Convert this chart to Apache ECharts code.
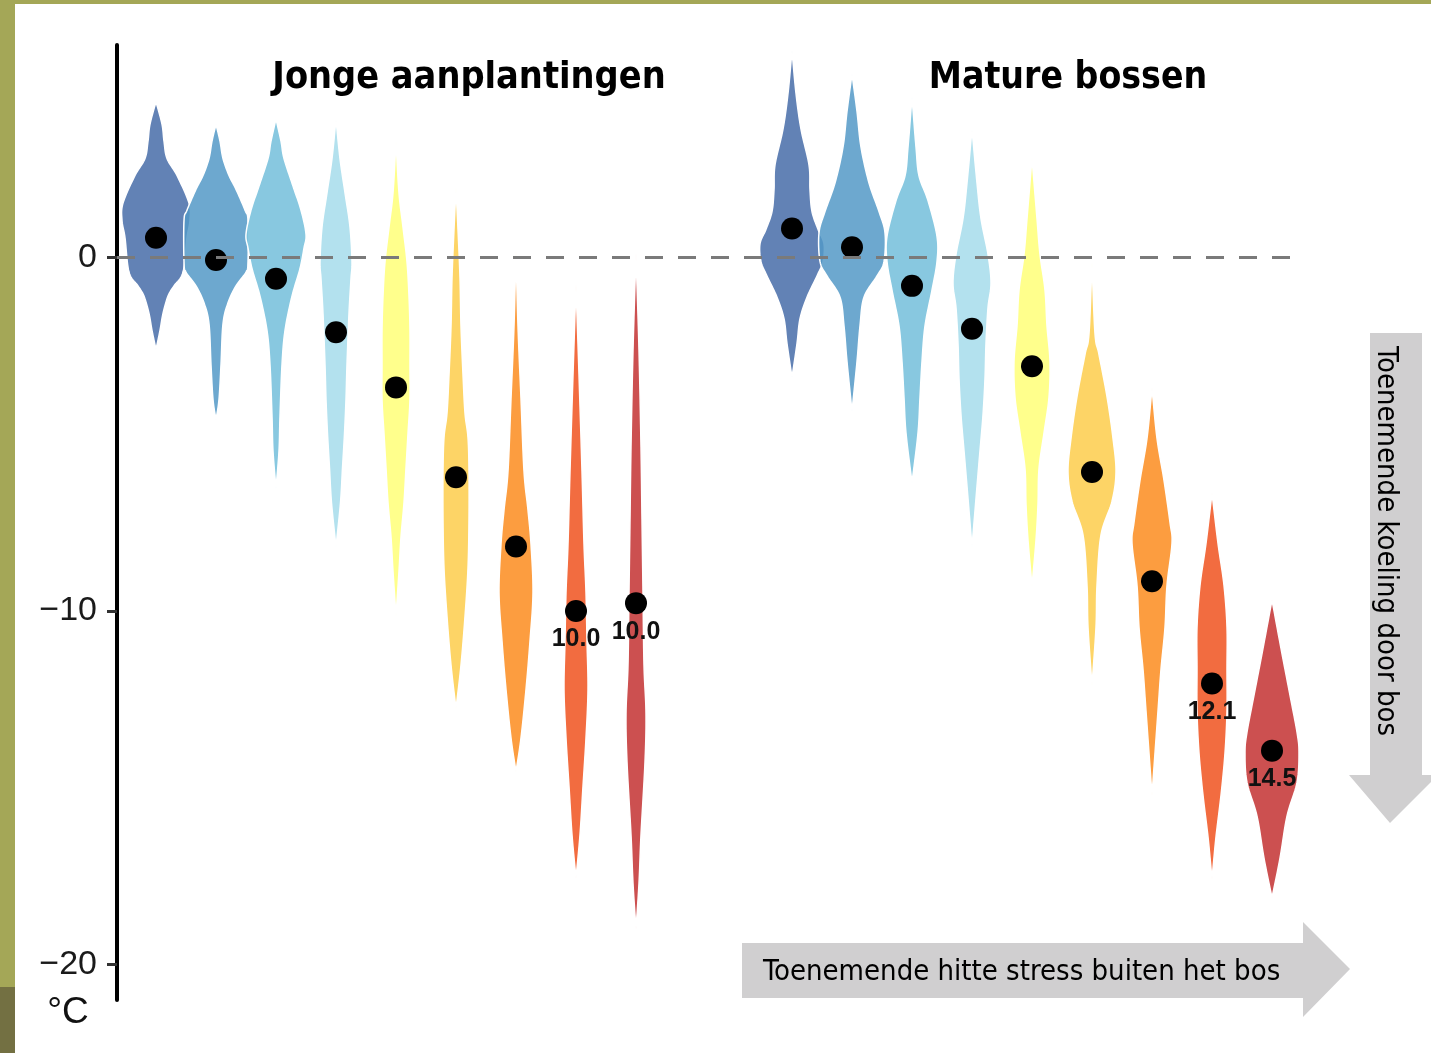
<!DOCTYPE html>
<html><head><meta charset="utf-8">
<script src="https://cdn.jsdelivr.net/npm/echarts@6/dist/echarts.min.js"></script>
<style>html,body{margin:0;padding:0;background:#fff;} #c{width:1431px;height:1053px;}</style>
</head><body><div id="c"></div>
<script>
// ---------------- data ----------------
const groupTitles = ['Jonge aanplantingen', 'Mature bossen'];
const yTicks = [0, -10, -20];
const yUnit = '°C';
const xArrowText = 'Toenemende hitte stress buiten het bos';
const yArrowText = 'Toenemende koeling door bos';

// mean cooling per heat-stress class (9 classes per group)
const youngMeans  = [0.55, -0.08, -0.61, -2.12, -3.68, -6.22, -8.18, -10.0, -9.78];
const matureMeans = [0.81, 0.28, -0.81, -2.02, -3.08, -6.07, -9.16, -12.05, -13.95];
const youngLabels  = ['', '', '', '', '', '', '', '10.0', '10.0'];
const matureLabels = ['', '', '', '', '', '', '', '12.1', '14.5'];

// violin density profiles: [value, relative density]
const youngDensity = [
  [[4.40,0],[3.76,6],[3.28,8],[2.79,11],[2.31,21],[1.53,33],[1.04,34],[0.55,31],[-0.42,27],[-0.81,18],[-1.10,12],[-1.59,7],[-2.07,4],[-2.61,0]],
  [[3.76,0],[3.28,4],[2.79,7],[2.31,13],[1.92,20],[1.33,29],[1.04,32],[-0.13,32],[-0.42,30],[-0.81,20],[-1.29,12],[-1.88,7],[-3.04,5],[-4.02,3],[-4.60,0]],
  [[3.91,0],[3.28,5],[2.79,8],[2.01,17],[1.33,25],[0.65,30],[0.26,28],[-0.32,24],[-1.10,16],[-2.07,9],[-3.04,6],[-4.50,4],[-5.48,3],[-6.55,0]],
  [[3.91,0],[2.79,4],[1.82,9],[0.85,14],[-0.13,16],[-0.61,15],[-1.59,13],[-3.04,11],[-4.02,10],[-4.99,8.5],[-5.96,6.5],[-6.94,4.5],[-8.20,0]],
  [[3.28,0],[1.82,3],[0.85,7],[-0.13,11],[-1.10,13],[-2.07,14],[-3.04,14],[-4.02,14],[-4.99,12],[-5.96,10],[-6.94,8],[-7.91,5],[-8.88,3],[-10.15,0]],
  [[1.96,0],[0.79,2],[-0.58,4],[-1.95,5],[-3.32,7],[-4.41,9],[-5.10,12],[-6.05,13],[-7.42,13],[-8.79,12],[-10.16,9],[-11.53,5],[-12.77,0]],
  [[0.18,0],[-1.95,2],[-4.00,5],[-6.05,8],[-7.15,12],[-8.11,15],[-9.48,17],[-10.85,14],[-12.22,10],[-13.59,5],[-14.55,0]],
  [[-0.78,0],[-3.32,3],[-6.05,6],[-8.11,8],[-9.48,10],[-10.85,11],[-12.22,12],[-13.59,10],[-14.96,7],[-16.33,4],[-17.56,0]],
  [[0.11,0],[-2.63,3],[-5.37,5],[-7.42,6],[-9.48,7],[-11.53,8],[-12.90,10],[-14.27,9],[-16.33,5],[-17.70,3],[-19.0,0]]
];
const matureDensity = [
  [[5.84,0],[4.63,4],[3.62,9],[2.61,17],[1.90,18],[1.29,20],[0.79,26],[0.38,32],[-0.12,31],[-0.53,25],[-1.13,15],[-1.74,8],[-2.44,5],[-3.40,0]],
  [[5.18,0],[4.12,5],[3.11,9],[2.10,17],[1.29,27],[0.69,33],[-0.12,32],[-0.53,25],[-1.13,12],[-1.94,8],[-2.95,5],[-4.36,0]],
  [[4.53,0],[3.11,4],[2.30,7],[1.60,16],[0.59,25],[-0.12,25],[-0.93,20],[-1.94,13],[-2.95,10],[-3.96,8],[-4.97,6],[-6.38,0]],
  [[3.62,0],[2.10,5],[1.09,9],[0.08,16],[-0.73,19],[-1.43,16],[-2.44,14],[-3.43,13],[-4.46,11],[-5.47,8],[-6.48,5],[-8.20,0]],
  [[2.81,0],[1.09,5],[0.08,8],[-0.93,13],[-1.94,15],[-2.95,18],[-3.96,17],[-4.97,12],[-5.98,7],[-6.99,6],[-8.0,4],[-9.31,0]],
  [[-0.14,0],[-2.16,3],[-2.75,7],[-3.94,15],[-5.12,21],[-6.07,24],[-6.90,20],[-7.85,9],[-9.28,5],[-10.46,4],[-12.12,0]],
  [[-3.70,0],[-5.12,5],[-6.31,12],[-7.50,18],[-8.09,20],[-9.28,15],[-10.46,13],[-11.65,9],[-12.83,6],[-15.21,0]],
  [[-6.67,0],[-8.09,6],[-9.28,12],[-10.46,15],[-11.65,15],[-12.83,15],[-14.02,13],[-15.21,9],[-16.39,4],[-17.58,0]],
  [[-9.69,0],[-11.06,9],[-12.24,17],[-13.43,25],[-14.02,27],[-14.85,25],[-15.80,15],[-16.99,8],[-18.11,0]]
];

// colours per heat-stress class (semi-transparent, like the original)
const palette = ['rgba(71,108,168,0.85)','rgba(84,153,199,0.85)','rgba(115,190,219,0.85)','rgba(166,220,235,0.85)',
  'rgba(255,255,120,0.85)','rgba(253,204,75,0.85)','rgba(252,140,30,0.85)','rgba(240,82,30,0.85)','rgba(195,49,49,0.85)'];

// ---------------- build ----------------
const groupGap = 10.6;             // slot offset of the second panel
const densityScale = 1 / 60;       // density -> x-axis units
const means = [youngMeans, matureMeans];
const labels = [youngLabels, matureLabels];
const profiles = [youngDensity, matureDensity];

const violinData = [], dotData = [];
for (let g = 0; g < 2; g++) {
  for (let k = 0; k < means[g].length; k++) {
    const x = 1 + k + g * groupGap;
    violinData.push([x, means[g][k], g, k]);
    dotData.push([x, means[g][k], labels[g][k]]);
  }
}

// smooth outline through the profile points (drawing only)
function smoothOutline(prof) {
  const out = [];
  const n = prof.length;
  const refl = (a, b) => [2 * a[0] - b[0], 2 * a[1] - b[1]];
  for (let i = 0; i < n - 1; i++) {
    const p1 = prof[i], p2 = prof[i + 1];
    const p0 = i > 0 ? prof[i - 1] : refl(p1, p2);
    const p3 = i + 2 < n ? prof[i + 2] : refl(p2, p1);
    for (let s = 0; s < 12; s++) {
      const t = s / 12, t2 = t * t, t3 = t2 * t;
      const f = (a, b, c, d) => 0.5 * (2 * b + (-a + c) * t + (2 * a - 5 * b + 4 * c - d) * t2 + (-a + 3 * b - 3 * c + d) * t3);
      out.push([f(p0[0], p1[0], p2[0], p3[0]), Math.max(0, f(p0[1], p1[1], p2[1], p3[1]))]);
    }
  }
  out.push(prof[n - 1]);
  return out;
}

const chart = echarts.init(document.getElementById('c'), null, {renderer: 'canvas'});
const titleFont = '"DejaVu Sans Condensed", "DejaVu Sans", sans-serif';
const arrowFont = '"DejaVu Sans Condensed", "Liberation Sans", sans-serif';

chart.setOption({
  backgroundColor: '#ffffff',
  animation: false,
  grid: {left: 117, right: 126, top: 45, bottom: 53},
  xAxis: {type: 'value', min: 0.35, max: 20.15, show: false},
  yAxis: {
    type: 'value', min: -21, max: 6,
    axisLine: {show: true, onZero: false, lineStyle: {color: '#000', width: 4}},
    axisTick: {show: true, customValues: yTicks, length: 10, lineStyle: {color: '#333', width: 3}},
    axisLabel: {show: true, customValues: yTicks, margin: 20, fontSize: 34,
      fontFamily: 'Liberation Sans', color: '#1a1a1a',
      formatter: v => v < 0 ? '\u2212' + Math.abs(v) : String(v)},
    splitLine: {show: false}
  },
  series: [
    {
      type: 'line', data: [], z: 1,
      markLine: {silent: true, symbol: 'none', label: {show: false},
        lineStyle: {type: [18, 15], color: '#7a7a7a', width: 3},
        data: [{yAxis: 0}]}
    },
    {
      type: 'custom', z: 2, data: violinData, encode: {x: 0, y: 1},
      renderItem: function (params, api) {
        const x = api.value(0), g = api.value(2), k = api.value(3);
        const curve = smoothOutline(profiles[g][k]);
        const right = curve.map(p => api.coord([x + p[1] * densityScale, p[0]]));
        const left = curve.slice(1, -1).reverse().map(p => api.coord([x - p[1] * densityScale, p[0]]));
        return {type: 'polygon', shape: {points: right.concat(left)},
          style: {fill: palette[k], stroke: '#ffffff', lineWidth: 1.5}};
      }
    },
    {
      type: 'scatter', z: 3, data: dotData, symbolSize: 22,
      itemStyle: {color: '#000', opacity: 1},
      label: {show: true, position: 'bottom', distance: 5,
        formatter: p => p.value[2], fontSize: 25, fontWeight: 'bold',
        fontFamily: 'Liberation Sans', color: '#111'}
    }
  ],
  graphic: [
    {type: 'rect', shape: {x: 0, y: 0, width: 15, height: 1053}, style: {fill: '#a4a757'}, silent: true},
    {type: 'rect', shape: {x: 0, y: 0, width: 1431, height: 4}, style: {fill: '#a4a757'}, silent: true},
    {type: 'rect', shape: {x: 0, y: 987, width: 15, height: 66}, style: {fill: '#737042'}, silent: true},
    {type: 'text', x: 469, y: 78, style: {text: groupTitles[0], font: 'bold 37.5px ' + titleFont,
      fill: '#000', align: 'center', verticalAlign: 'middle'}},
    {type: 'text', x: 1068, y: 78, style: {text: groupTitles[1], font: 'bold 37px ' + titleFont,
      fill: '#000', align: 'center', verticalAlign: 'middle'}},
    {type: 'text', x: 68, y: 1013, style: {text: yUnit, font: '37px Liberation Sans',
      fill: '#111', align: 'center', verticalAlign: 'middle'}},
    {type: 'polygon', silent: true, shape: {points: [[742,943],[1303,943],[1303,922],[1350,969],[1303,1017],[1303,998],[742,998]]},
      style: {fill: '#d0cfd0'}},
    {type: 'text', x: 763, y: 972, style: {text: xArrowText, font: '29px ' + arrowFont,
      fill: '#000', align: 'left', verticalAlign: 'middle'}},
    {type: 'polygon', silent: true, shape: {points: [[1370,333],[1422,333],[1422,775],[1431,775],[1431,782],[1390,823],[1349,775],[1370,775]]},
      style: {fill: '#d0cfd0'}},
    {type: 'text', x: 1386, y: 541, rotation: -Math.PI / 2, style: {text: yArrowText, font: '29px ' + arrowFont,
      fill: '#000', align: 'center', verticalAlign: 'middle'}}
  ]
});
</script>
</body></html>
